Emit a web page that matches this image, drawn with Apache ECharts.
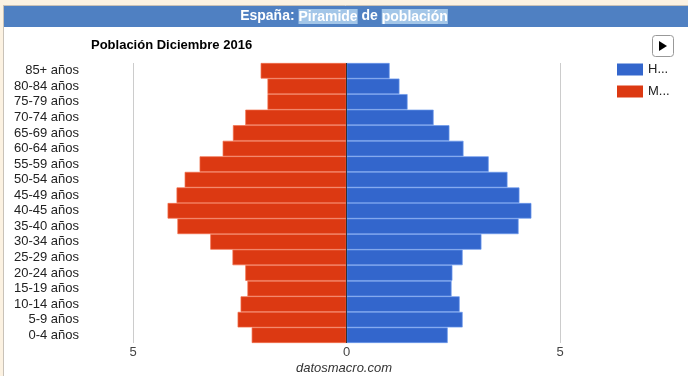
<!DOCTYPE html>
<html>
<head>
<meta charset="utf-8">
<script src="https://cdn.jsdelivr.net/npm/echarts@6/dist/echarts.min.js"></script>
<style>
  html, body { margin: 0; padding: 0; background: #fff; }
  #main { width: 688px; height: 376px; }
</style>
</head>
<body>
<div id="main"></div>
<script>
// grupos de edad (de abajo a arriba)
var ageGroups = ['0-4 años', '5-9 años', '10-14 años', '15-19 años', '20-24 años', '25-29 años',
  '30-34 años', '35-40 años', '40-45 años', '45-49 años', '50-54 años', '55-59 años',
  '60-64 años', '65-69 años', '70-74 años', '75-79 años', '80-84 años', '85+ años'];
// % de la población
var hombres = [2.37, 2.72, 2.65, 2.46, 2.48, 2.72, 3.16, 4.03, 4.33, 4.05, 3.77, 3.33, 2.74, 2.41, 2.04, 1.43, 1.24, 1.01];
var mujeres = [2.22, 2.55, 2.48, 2.32, 2.37, 2.67, 3.19, 3.96, 4.19, 3.98, 3.79, 3.44, 2.90, 2.66, 2.37, 1.85, 1.85, 2.01];
var xTicks = [-5, 0, 5];

var myChart = echarts.init(document.getElementById('main'));

myChart.setOption({
  animation: false,
  backgroundColor: '#fff',
  textStyle: { fontFamily: 'Arial, "Liberation Sans", sans-serif' },
  graphic: [
    // marco beige
    { type: 'rect', shape: { x: 0, y: 0, width: 688, height: 5 }, style: { fill: '#fcf2e2' }, silent: true },
    { type: 'rect', shape: { x: 0, y: 0, width: 3, height: 376 }, style: { fill: '#fcf2e2' }, silent: true },
    { type: 'line', shape: { x1: 3.5, y1: 5, x2: 3.5, y2: 376 }, style: { stroke: '#c9c2b8', lineWidth: 1 }, silent: true },
    { type: 'line', shape: { x1: 3, y1: 5.5, x2: 688, y2: 5.5 }, style: { stroke: '#c9c2b8', lineWidth: 1 }, silent: true },
    // barra azul cabecera
    { type: 'rect', shape: { x: 4, y: 6, width: 684, height: 21 }, style: { fill: '#4f80c2' }, silent: true },
    // boton play
    { type: 'rect', shape: { x: 652.5, y: 35.5, width: 21, height: 21, r: 3 }, style: { fill: '#fff', stroke: '#999', lineWidth: 1 }, silent: true },
    { type: 'polygon', shape: { points: [[659, 41], [659, 51], [667, 46]] }, style: { fill: '#000' }, silent: true }
  ],
  title: [
    {
      text: 'España: {h|Piramide} de {h|población}',
      left: 'center',
      top: 9,
      padding: 0,
      textStyle: {
        fontSize: 14, fontWeight: 'bold', color: '#fff',
        rich: {
          h: { fontSize: 14, fontWeight: 'bold', color: '#fff', backgroundColor: '#a3c6e8', padding: [1, 0, 0, 0] }
        }
      }
    },
    {
      text: 'Población Diciembre 2016',
      left: 91,
      top: 39,
      padding: 0,
      textStyle: { fontSize: 13, fontWeight: 'bold', color: '#000' }
    },
    {
      text: 'datosmacro.com',
      left: 'center',
      top: 362,
      padding: 0,
      textStyle: { fontSize: 13, fontWeight: 'normal', fontStyle: 'italic', color: '#333' }
    }
  ],
  legend: {
    data: ['Hombres', 'Mujeres'],
    orient: 'vertical',
    left: 617,
    top: 63,
    padding: 0,
    itemWidth: 26,
    itemHeight: 12,
    itemGap: 9,
    icon: 'rect',
    itemStyle: { borderWidth: 0 },
    formatter: function (name) { return name.charAt(0) + '...'; },
    textStyle: { fontSize: 13, color: '#222' }
  },
  grid: { left: 133, right: 128, top: 63, bottom: 33, containLabel: false },
  xAxis: {
    type: 'value',
    min: xTicks[0],
    max: xTicks[xTicks.length - 1],
    interval: 5,
    axisLine: { show: false },
    axisTick: { show: false },
    axisLabel: {
      margin: 3,
      fontSize: 13,
      color: '#444',
      formatter: function (v) { return Math.abs(v); }
    },
    splitLine: { show: true, lineStyle: { color: '#cccccc', width: 1 } }
  },
  yAxis: {
    type: 'category',
    data: ageGroups,
    axisLine: { show: false },
    axisTick: { show: false },
    axisLabel: { interval: 0, margin: 54, fontSize: 13, color: '#222' }
  },
  series: [
    {
      name: 'Hombres',
      type: 'bar',
      stack: 'pob',
      barCategoryGap: '0%',
      data: hombres,
      itemStyle: { color: '#3366cc', borderColor: '#6a98ec', borderWidth: 0.7 },
      markLine: {
        silent: true,
        symbol: 'none',
        label: { show: false },
        lineStyle: { color: '#333', width: 1, type: 'solid' },
        data: [{ xAxis: 0 }]
      }
    },
    {
      name: 'Mujeres',
      type: 'bar',
      stack: 'pob',
      barCategoryGap: '0%',
      data: mujeres.map(function (v) { return -v; }),
      itemStyle: { color: '#dc3912', borderColor: '#f06e4c', borderWidth: 0.7 }
    }
  ]
});
</script>
</body>
</html>
